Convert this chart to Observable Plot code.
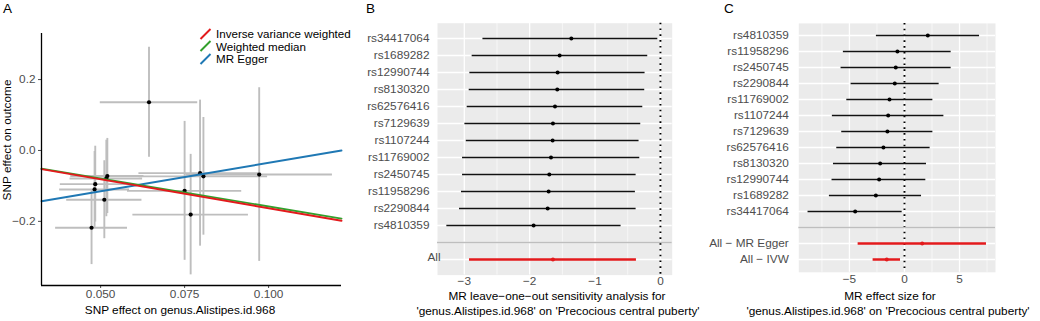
<!DOCTYPE html>
<html>
<head>
<meta charset="utf-8">
<script src="https://cdn.jsdelivr.net/npm/d3@7"></script>
<script src="https://cdn.jsdelivr.net/npm/@observablehq/plot@0.6"></script>
<style>
  html, body { margin: 0; padding: 0; background: #fff; }
  #wrap { position: relative; width: 1040px; height: 321px; overflow: hidden; font-family: "Liberation Sans", Arial, sans-serif; }
  .abs { position: absolute; }
  .panel-letter { font-size: 13.5px; color: #000; line-height: 1; }
  .title { font-size: 11.8px; color: #000; white-space: nowrap; line-height: 1; transform: translate(-50%, -50%); }
  .legend-row { font-size: 11.6px; color: #000; white-space: nowrap; line-height: 1; display: flex; align-items: center; }
  svg { overflow: visible; }
</style>
</head>
<body>
<div id="wrap">
  <div id="pa" class="abs" style="left:0;top:0"></div>
  <div id="pb" class="abs" style="left:345px;top:0"></div>
  <div id="pc" class="abs" style="left:680px;top:0"></div>
</div>
<script>
// ---------------- Panel A: scatter ----------------
const snpA    = ["rs4810359","rs62576416","rs8130320","rs1689282","rs11769002","rs34417064","rs1107244","rs12990744","rs2450745","rs2290844","rs11958296","rs7129639"];
const betaExp = [0.0644, 0.0484, 0.0482, 0.0511, 0.0520, 0.0473, 0.0750, 0.0768, 0.0796, 0.0806, 0.0972, 0.0517];
const seExp   = [0.0145, 0.0104, 0.0104, 0.0112, 0.0109, 0.0107, 0.0170, 0.0172, 0.0182, 0.0191, 0.0218, 0.0108];
const betaOut = [0.136, -0.095, -0.110, -0.139, -0.072, -0.218, -0.114, -0.181, -0.064, -0.073, -0.068, -0.079];
const seOut   = [0.155, 0.107, 0.107, 0.110, 0.106, 0.104, 0.196, 0.170, 0.206, 0.166, 0.245, 0.108];

const methods      = ["Inverse variance weighted", "Weighted median", "MR Egger"];
const methodColors = ["#e31a1c", "#33a02c", "#1f78b4"];
const intercepts   = [0, 0, -0.195];
const slopes       = [-1.63, -1.58, 1.60];
const drawOrder    = ["MR Egger", "Weighted median", "Inverse variance weighted"];

const xTicksA = [0.050, 0.075, 0.100];
const yTicksA = [-0.2, 0.0, 0.2];
const xTitleA = "SNP effect on genus.Alistipes.id.968";
const yTitleA = "SNP effect on outcome";

// ---------------- Panel B: leave-one-out ----------------
const looSNP = ["rs34417064","rs1689282","rs12990744","rs8130320","rs62576416","rs7129639","rs1107244","rs11769002","rs2450745","rs11958296","rs2290844","rs4810359","All"];
const looB   = [-1.363, -1.542, -1.573, -1.578, -1.613, -1.644, -1.649, -1.674, -1.700, -1.710, -1.725, -1.940, -1.644];
const looLo  = [-2.715, -2.880, -2.915, -2.925, -2.956, -2.991, -2.970, -3.027, -3.027, -3.043, -3.073, -3.267, -2.920];
const looHi  = [-0.040, -0.194, -0.235, -0.240, -0.270, -0.301, -0.327, -0.316, -0.372, -0.383, -0.372, -0.602, -0.367];
const xTicksB = [-3, -2, -1, 0];
const xMinorB = [-2.5, -1.5, -0.5];
const titleB = ["MR leave\u2212one\u2212out sensitivity analysis for", "'genus.Alistipes.id.968' on 'Precocious central puberty'"];

// ---------------- Panel C: single SNP forest ----------------
const singleSNP = ["rs4810359","rs11958296","rs2450745","rs2290844","rs11769002","rs1107244","rs7129639","rs62576416","rs8130320","rs12990744","rs1689282","rs34417064","All \u2212 MR Egger","All \u2212 IVW"];
const singleB  = [2.12, -0.64, -0.79, -0.88, -1.36, -1.48, -1.55, -1.91, -2.21, -2.30, -2.60, -4.48, 1.61, -1.61];
const singleLo = [-2.55, -5.55, -5.76, -4.85, -5.24, -6.55, -5.70, -6.15, -6.45, -6.58, -6.82, -8.76, -4.21, -2.85];
const singleHi = [6.82, 4.24, 4.24, 3.15, 2.58, 3.58, 2.58, 2.33, 2.00, 1.94, 1.55, -0.21, 7.45, -0.36];
const xTicksC = [-5, 0, 5];
const xMinorC = [-7.5, -2.5, 2.5, 7.5];
const titleC = ["MR effect size for", "'genus.Alistipes.id.968' on 'Precocious central puberty'"];

const FONT = "'Liberation Sans', Arial, sans-serif";
const wrap = document.getElementById("wrap");

// ---------- Panel A ----------
const xDomA = [0.0324, 0.1217];
const yDomA = [-0.381, 0.330];
const dataA = betaExp.map((x, i) => ({snp: snpA[i], x, y: betaOut[i], sx: seExp[i], sy: seOut[i]}));
const lineData = drawOrder.flatMap(m => {
  const i = methods.indexOf(m);
  return xDomA.map(x => ({m, x, y: intercepts[i] + slopes[i] * x}));
});

const plotA = Plot.plot({
  width: 345, height: 321,
  marginLeft: 41, marginRight: 4, marginTop: 33, marginBottom: 36,
  style: {fontFamily: FONT, fontSize: "11.8px", color: "#4d4d4d", background: "transparent", overflow: "visible"},
  x: {domain: xDomA, ticks: xTicksA, tickFormat: d3.format(".3f"), label: null, tickSize: 3, tickPadding: 1},
  y: {domain: yDomA, ticks: yTicksA, tickFormat: d3.format(".1f"), label: null, tickSize: 3, tickPadding: 3},
  color: {domain: methods, range: methodColors},
  marks: [
    Plot.ruleY(dataA, {y: "y", x1: d => d.x - d.sx, x2: d => d.x + d.sx, stroke: "#bebebe", strokeWidth: 1.9}),
    Plot.ruleX(dataA, {x: "x", y1: d => d.y - d.sy, y2: d => d.y + d.sy, stroke: "#bebebe", strokeWidth: 1.9}),
    Plot.dot(dataA, {x: "x", y: "y", r: 2.1, fill: "#000", stroke: "none"}),
    Plot.line(lineData, {x: "x", y: "y", z: "m", stroke: "m", strokeWidth: 1.9}),
    Plot.ruleX([xDomA[0]], {stroke: "#000", strokeWidth: 1.3}),
    Plot.ruleY([yDomA[0]], {stroke: "#000", strokeWidth: 1.3})
  ]
});
document.getElementById("pa").appendChild(plotA);

// ---------- Forest helper ----------
function forest({labels, est, lo, hi, nAll, domainX, ticks, minor, width, ml, mr, mt, mb, padY, looseAll}) {
  const n = labels.length;
  const rows = labels.map((s, i) => ({s, b: est[i], lo: lo[i], hi: hi[i], all: i >= n - nAll}));
  const dom = [...labels.slice(0, n - nAll), "", ...labels.slice(n - nAll)];
  const allLabels = labels.slice(n - nAll);
  const marks = [
    Plot.frame({fill: "#ebebeb", stroke: "none"}),
    Plot.ruleX(minor, {stroke: "#fff", strokeWidth: 0.6}),
    Plot.ruleX(ticks, {stroke: "#fff", strokeWidth: 1.3}),
    Plot.ruleY(dom, {stroke: "#fff", strokeWidth: 1.3}),
    Plot.ruleX([0], {stroke: "#000", strokeWidth: 1.9, strokeDasharray: "1.6,4.2"}),
    Plot.ruleY(rows.filter(d => !d.all), {y: "s", x1: "lo", x2: "hi", stroke: "#111", strokeWidth: 1.5}),
    Plot.ruleY(rows.filter(d => d.all), {y: "s", x1: "lo", x2: "hi", stroke: "#e31a1c", strokeWidth: 2.5}),
    Plot.dot(rows.filter(d => !d.all), {x: "b", y: "s", r: 2, fill: "#000", stroke: "none"}),
    Plot.dot(rows.filter(d => d.all), {x: "b", y: "s", r: 2, fill: "#e31a1c", stroke: "none"}),
    Plot.ruleY([""], {stroke: "#bebebe", strokeWidth: 1.5})
  ];
  if (looseAll) {
    marks.push(Plot.text(allLabels, {y: d => d, text: d => d, frameAnchor: "left", textAnchor: "start", dx: -10, dy: -2, fill: "#4d4d4d", fontSize: 11.8}));
  }
  return Plot.plot({
    width, height: 321,
    marginLeft: ml, marginRight: mr, marginTop: mt, marginBottom: mb,
    style: {fontFamily: FONT, fontSize: "11.8px", color: "#4d4d4d", background: "transparent", overflow: "visible"},
    x: {domain: domainX, ticks, tickFormat: d3.format("d"), label: null, tickSize: 0, tickPadding: 2},
    y: {type: "point", domain: dom, padding: 0.6, label: null, tickSize: 0, tickPadding: padY,
        tickFormat: d => (looseAll && allLabels.includes(d)) ? "" : d},
    marks
  });
}

const plotB = forest({
  labels: looSNP, est: looB, lo: looLo, hi: looHi, nAll: 1,
  domainX: [-3.41, 0.18], ticks: xTicksB, minor: xMinorB,
  width: 335, ml: 92, mr: 8.3, mt: 22.7, mb: 46.4, padY: 8, looseAll: true
});
document.getElementById("pb").appendChild(plotB);

const plotC = forest({
  labels: singleSNP, est: singleB, lo: singleLo, hi: singleHi, nAll: 2,
  domainX: [-9.6, 8.27], ticks: xTicksC, minor: xMinorC,
  width: 360, ml: 118.3, mr: 45, mt: 22.9, mb: 49.2, padY: 10, looseAll: false
});
document.getElementById("pc").appendChild(plotC);

// ---------- HTML overlays: panel letters, titles, legend ----------
function addDiv(cls, text, left, top, extra) {
  const d = document.createElement("div");
  d.className = "abs " + cls;
  d.textContent = text;
  d.style.left = left + "px";
  d.style.top = top + "px";
  if (extra) Object.assign(d.style, extra);
  wrap.appendChild(d);
  return d;
}
addDiv("panel-letter", "A", 3, 2);
addDiv("panel-letter", "B", 366, 2);
addDiv("panel-letter", "C", 724, 2);

addDiv("title", xTitleA, 180, 311);
addDiv("title", yTitleA, 8, 140, {transform: "translate(-50%, -50%) rotate(-90deg)"});
addDiv("title", titleB[0], 557, 297);
addDiv("title", titleB[1], 558, 312);
addDiv("title", titleC[0], 890, 297);
addDiv("title", titleC[1], 888, 312);

// legend
methods.forEach((m, i) => {
  const row = document.createElement("div");
  row.className = "abs legend-row";
  row.style.left = "199px";
  row.style.top = (27.5 + i * 12.8) + "px";
  row.style.height = "12px";
  const key = d3.create("svg").attr("width", 14).attr("height", 12).style("margin-right", "3px");
  key.append("line").attr("x1", 1.5).attr("y1", 11).attr("x2", 11.5).attr("y2", 1)
     .attr("stroke", methodColors[i]).attr("stroke-width", 1.9);
  row.appendChild(key.node());
  const t = document.createElement("span");
  t.textContent = m;
  row.appendChild(t);
  wrap.appendChild(row);
});
</script>
</body>
</html>
